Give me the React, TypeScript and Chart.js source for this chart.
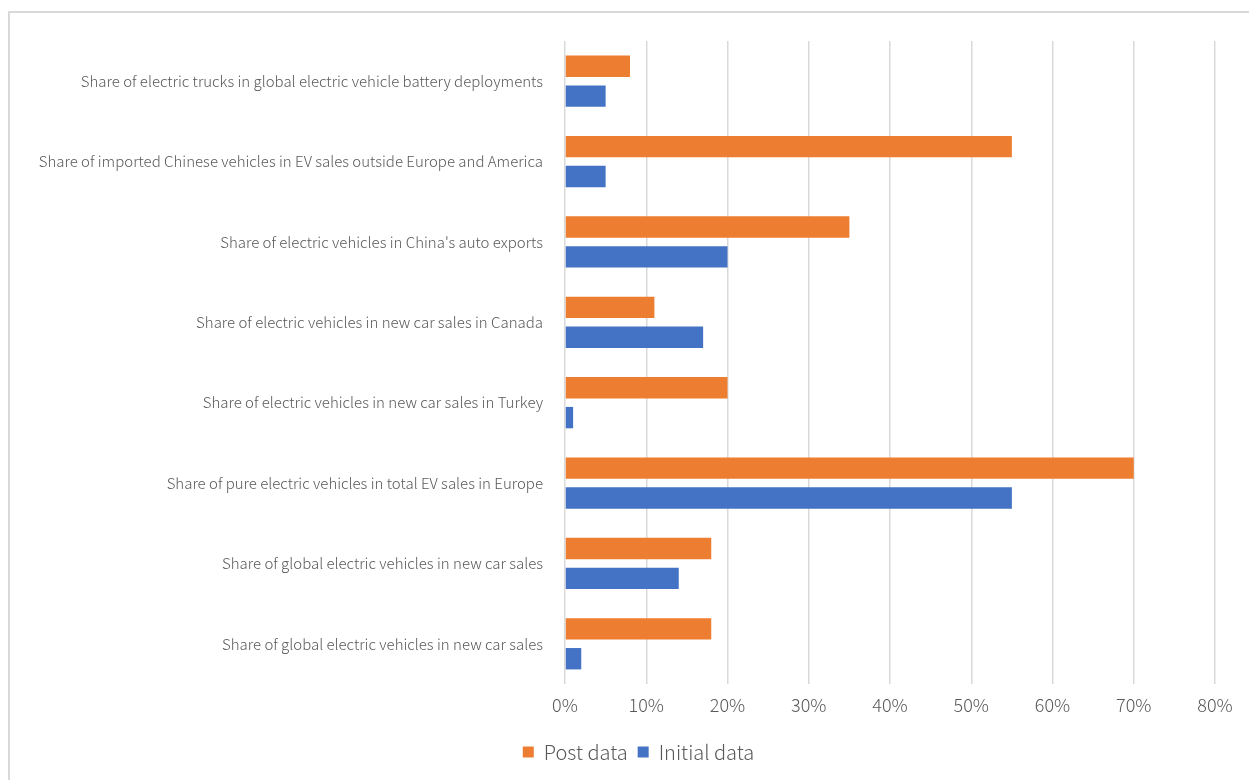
import React, { useEffect, useRef } from "react";
import { Chart, registerables } from "chart.js";

Chart.register(...registerables);

const categories: string[] = [
  "Share of electric trucks in global electric vehicle battery deployments",
  "Share of imported Chinese vehicles in EV sales outside Europe and America",
  "Share of electric vehicles in China's auto exports",
  "Share of electric vehicles in new car sales in Canada",
  "Share of electric vehicles in new car sales in Turkey",
  "Share of pure electric vehicles in total EV sales in Europe",
  "Share of global electric vehicles in new car sales",
  "Share of global electric vehicles in new car sales",
];

const postData: number[] = [8, 55, 35, 11, 20, 70, 18, 18];
const initialData: number[] = [5, 5, 20, 17, 1, 55, 14, 2];

const xTickValues: number[] = [0, 10, 20, 30, 40, 50, 60, 70, 80];

const FONT = '"Noto Sans CJK SC", "Noto Sans", sans-serif';
const TEXT = "#595959";

const legendShift = {
  id: "legendShift",
  afterLayout(chart: any) {
    const lg = chart.legend;
    if (lg && !lg._shifted) {
      lg.left += 31;
      lg.right += 31;
      lg._shifted = true;
    }
  },
  beforeUpdate(chart: any) {
    if (chart.legend) chart.legend._shifted = false;
  },
};

export default function App() {
  const ref = useRef<HTMLCanvasElement | null>(null);

  useEffect(() => {
    if (!ref.current) return;
    const chart = new Chart(ref.current, {
      type: "bar",
      data: {
        labels: categories,
        datasets: [
          {
            label: "Post data",
            data: postData,
            backgroundColor: "#ED7D31",
            categoryPercentage: 0.742,
            barPercentage: 0.717,
          },
          {
            label: "Initial data",
            data: initialData,
            backgroundColor: "#4472C4",
            categoryPercentage: 0.742,
            barPercentage: 0.717,
          },
        ],
      },
      options: {
        indexAxis: "y",
        responsive: false,
        animation: false,
        layout: { padding: { left: 0, right: 34, top: 41, bottom: 8 } },
        scales: {
          x: {
            min: 0,
            max: 80,
            afterBuildTicks: (scale: any) => {
              scale.ticks = xTickValues.map((v) => ({ value: v }));
            },
            afterFit: (scale: any) => {
              scale.height = 48;
            },
            grid: { color: "#d9d9d9", lineWidth: 1.5, drawTicks: false },
            border: { display: false },
            ticks: {
              padding: 10,
              color: TEXT,
              font: { family: FONT, size: 18, weight: "300" },
              callback: (v: any) => v + "%",
            },
          },
          y: {
            afterFit: (scale: any) => {
              scale.width = 565;
            },
            grid: { display: false },
            border: { display: false },
            ticks: {
              padding: 14,
              color: TEXT,
              font: { family: FONT, size: 15, weight: "300" },
            },
          },
        },
        plugins: {
          legend: {
            position: "bottom",
            labels: {
              boxWidth: 11,
              boxHeight: 11,
              padding: 10,
              color: TEXT,
              font: { family: FONT, size: 20, weight: "300" },
            },
          },
          tooltip: { enabled: false },
        },
      },
      plugins: [legendShift],
    });
    return () => chart.destroy();
  }, []);

  return (
    <div
      style={{
        position: "fixed",
        left: 0,
        top: 0,
        width: 1249,
        height: 780,
        overflow: "hidden",
        background: "#fff",
      }}
    >
      <div
        style={{
          position: "absolute",
          left: 8,
          top: 11,
          width: 1300,
          height: 800,
          border: "2px solid #d9d9d9",
          boxSizing: "border-box",
        }}
      />
      <canvas
        ref={ref}
        width={1249}
        height={780}
        style={{ position: "absolute", left: 0, top: 0 }}
      />
    </div>
  );
}
